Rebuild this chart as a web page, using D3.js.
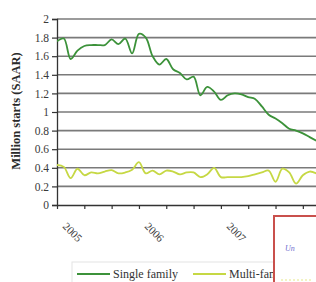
<!DOCTYPE html>
<html><head><meta charset="utf-8">
<script src="https://cdn.jsdelivr.net/npm/d3@7"></script>
<style>html,body{margin:0;padding:0;background:#fff;overflow:hidden}svg{display:block}
svg text{font-family:"Liberation Serif","Times New Roman",serif}</style>
</head><body>
<script>
// Months since Jan 2005
const months = d3.range(0, 39);
const singleFamily = [1.76,1.79,1.57,1.66,1.71,1.72,1.72,1.72,1.78,1.73,1.79,1.63,1.84,1.80,1.60,1.51,1.57,1.46,1.42,1.35,1.38,1.18,1.27,1.22,1.13,1.18,1.20,1.19,1.16,1.14,1.06,0.97,0.93,0.88,0.82,0.80,0.77,0.73,0.69];
const multiFamily = [0.43,0.41,0.29,0.39,0.32,0.35,0.34,0.36,0.375,0.34,0.35,0.38,0.46,0.34,0.37,0.33,0.37,0.36,0.33,0.35,0.35,0.30,0.33,0.40,0.30,0.30,0.30,0.30,0.31,0.33,0.35,0.37,0.25,0.39,0.35,0.23,0.32,0.36,0.34];
const yTicks = [0,0.2,0.4,0.6,0.8,1,1.2,1.4,1.6,1.8,2];
const yTickLabels = ["0","0.2","0.4","0.6","0.8","1","1.2","1.4","1.6","1.8","2"];
const xTicks = [0,4,8,12,16,20,24,28,32,36];
const yearTicks = [0,12,24];
const yearLabels = ["2005","2006","2007"];
const seriesNames = ["Single family","Multi-family"];
const colors = ["#3c923a","#c6d844"];

const W = 316, H = 282;
const SERIF = "Liberation Serif";
const svg = d3.select("body").append("svg").attr("width", W).attr("height", H)
  .attr("font-family", SERIF);

const x = d3.scaleLinear().domain([0, 38]).range([57, 316.5]);
const y = d3.scaleLinear().domain([0, 2]).range([205, 19]);

// gridlines
svg.append("g").selectAll("line").data(yTicks.filter(d => d > 0)).join("line")
  .attr("x1", 57).attr("x2", W).attr("y1", d => y(d)).attr("y2", d => y(d))
  .attr("stroke", "#7a7a7a").attr("stroke-width", 1.6);

// y axis
const yAxis = d3.axisLeft(y).tickValues(yTicks).tickFormat((d, i) => yTickLabels[i]).tickSize(5).tickPadding(3);
const gy = svg.append("g").attr("transform", "translate(57,0)").call(yAxis).attr("font-family", SERIF);
gy.select(".domain").attr("stroke", "#333").attr("stroke-width", 1.3);
gy.selectAll(".tick line").attr("stroke", "#333").attr("stroke-width", 1.2);
gy.selectAll("text").attr("font-size", 11.5).attr("fill", "#3a3a3a").attr("font-family", SERIF);

// x axis
const xAxis = d3.axisBottom(x).tickValues(xTicks).tickFormat("").tickSize(4).tickSizeOuter(0);
const gx = svg.append("g").attr("transform", "translate(0,205)").call(xAxis);
gx.select(".domain").attr("stroke", "#333").attr("stroke-width", 1.5);
gx.selectAll(".tick line").attr("stroke", "#333").attr("stroke-width", 1.2);

svg.append("g").selectAll("text").data(yearTicks).join("text")
  .attr("transform", (d) => `translate(${x(d) + 5},227) rotate(45)`)
  .attr("font-size", 11).attr("fill", "#3a3a3a").attr("font-family", SERIF)
  .text((d, i) => yearLabels[i]);

// y title
svg.append("text").attr("transform", "translate(20,111) rotate(-90)")
  .attr("text-anchor", "middle").attr("font-size", 12.5).attr("font-weight", "bold").attr("fill", "#2a2a2a")
  .attr("font-family", SERIF)
  .text("Million starts (SAAR)");

// lines
const line = d3.line().x((d, i) => x(months[i])).y(d => y(d)).curve(d3.curveCatmullRom.alpha(0.5));
svg.append("clipPath").attr("id", "c").append("rect").attr("x", 57).attr("y", 0).attr("width", W).attr("height", 205);
[multiFamily, singleFamily].forEach((s, k) => {
  svg.append("path").datum(s).attr("d", line).attr("fill", "none")
    .attr("stroke", k === 0 ? colors[1] : colors[0]).attr("stroke-width", 1.8)
    .attr("clip-path", "url(#c)");
});

// legend
const lg = svg.append("g");
lg.append("rect").attr("x", 72).attr("y", 262).attr("width", 240).attr("height", 30)
  .attr("fill", "none").attr("stroke", "#e4e4e4").attr("stroke-width", 1);
const legendX = [77, 193];
seriesNames.forEach((n, i) => {
  lg.append("line").attr("x1", legendX[i]).attr("x2", legendX[i] + 33).attr("y1", 274).attr("y2", 274)
    .attr("stroke", colors[i]).attr("stroke-width", 1.8);
  lg.append("text").attr("x", legendX[i] + 36).attr("y", 278).attr("font-size", 12)
    .attr("fill", "#333").attr("font-family", SERIF).text(n);
});

// overlapping framed inset (cropped)
svg.append("rect").attr("x", 274).attr("y", 216).attr("width", 60).attr("height", 80)
  .attr("fill", "#fff").attr("stroke", "#c9504c").attr("stroke-width", 2);
svg.append("text").attr("x", 285).attr("y", 251).attr("font-size", 8).attr("font-style", "italic")
  .attr("fill", "#6f6fd0").attr("font-family", "Liberation Sans").text("Un");
svg.append("line").attr("x1", 281).attr("x2", 312).attr("y1", 280).attr("y2", 280)
  .attr("stroke", "#eef0b0").attr("stroke-width", 1.5).attr("stroke-dasharray", "2,2");
</script>
</body></html>
